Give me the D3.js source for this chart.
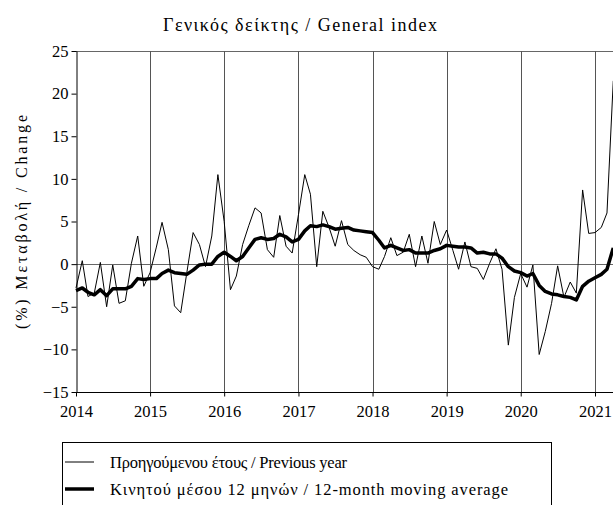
<!DOCTYPE html>
<html>
<head>
<meta charset="utf-8">
<script src="https://cdn.jsdelivr.net/npm/d3@7"></script>
<style>
  body { margin: 0; background: #fff; }
  text { font-family: "Liberation Serif", "DejaVu Serif", serif; fill: #000; }
</style>
</head>
<body>
<svg class="chart" width="613" height="505"></svg>
<script>
// monthly data, Jan 2014 - Apr 2021
const startYear = 2014;
const startMonth = 0;

const yoy = [
  -2.8, 0.4, -3.8, -3.4, 0.2, -5.0, -0.1, -4.6, -4.3, 0.1, 3.3, -2.6,
  -1.0, 2.0, 4.9, 1.7, -4.9, -5.7, -1.0, 3.7, 2.3, -0.3, 3.3, 10.5,
  5.0, -3.0, -1.4, 2.3, 4.5, 6.6, 6.0, 1.7, 0.8, 5.7, 2.1, 1.3,
  5.8, 10.5, 8.2, -0.3, 6.2, 4.3, 2.1, 5.1, 2.3, 1.6, 1.1, 0.8,
  -0.3, -0.6, 0.9, 3.1, 1.0, 1.4, 3.5, -0.3, 3.3, 0.1, 5.0, 2.3,
  4.0, 1.6, -0.6, 2.6, -0.3, -0.5, -1.8, 0.1, 1.8, -0.6, -9.5, -3.9,
  -1.1, -2.7, -0.1, -10.6, -7.9, -4.6, -0.2, -3.9, -2.1, -3.4, 8.7, 3.6,
  3.7, 4.3, 6.0, 21.5
];

const ma12 = [
  -3.1, -2.8, -3.3, -3.6, -3.0, -3.7, -2.9, -2.9, -2.9, -2.6, -1.7, -1.8,
  -1.7, -1.7, -1.1, -0.7, -1.0, -1.1, -1.2, -0.7, -0.1, 0.0, 0.0, 0.9,
  1.4, 0.9, 0.4, 0.9, 1.9, 2.9, 3.1, 2.9, 3.0, 3.5, 3.2, 2.6,
  2.9, 3.9, 4.5, 4.4, 4.6, 4.4, 4.1, 4.2, 4.3, 4.0, 3.9, 3.8,
  3.7, 2.8, 1.9, 2.2, 1.9, 1.6, 1.7, 1.3, 1.3, 1.3, 1.6, 1.8,
  2.2, 2.1, 2.0, 2.0, 1.9, 1.3, 1.4, 1.2, 1.2, 0.7, -0.3, -0.8,
  -1.0, -1.4, -1.1, -2.5, -3.2, -3.5, -3.6, -3.8, -3.9, -4.2, -2.6, -2.0,
  -1.6, -1.2, -0.6, 1.9
];

const yearTicks = [2014, 2015, 2016, 2017, 2018, 2019, 2020, 2021];
const yTicks = [-15, -10, -5, 0, 5, 10, 15, 20, 25];

const titleText = 'Γενικός δείκτης / General index';
const yLabelText = '(%) Μεταβολή / Change';
const legendLabels = [
  'Προηγούμενου έτους / Previous year',
  'Κινητού μέσου 12 μηνών / 12-month moving average'
];

const svg = d3.select('.chart');

const plot = { left: 76, right: 613, top: 51, bottom: 392 };

const monthDate = (i) => new Date(startYear, startMonth + i, 1);

const x = d3.scaleTime()
  .domain([new Date(2014, 0, 1), new Date(2021, 0, 1)])
  .range([plot.left, 595]);

const y = d3.scaleLinear()
  .domain([-15, 25])
  .range([plot.bottom, plot.top]);

// title
svg.append('text')
  .attr('x', 300)
  .attr('y', 31)
  .attr('text-anchor', 'middle')
  .attr('font-size', 18)
  .attr('textLength', 274)
  .attr('lengthAdjust', 'spacing')
  .text(titleText);

// y label
svg.append('text')
  .attr('transform', 'translate(27,222) rotate(-90)')
  .attr('text-anchor', 'middle')
  .attr('font-size', 16)
  .attr('textLength', 214)
  .attr('lengthAdjust', 'spacing')
  .text(yLabelText);

// top border
svg.append('line')
  .attr('x1', plot.left).attr('x2', plot.right)
  .attr('y1', plot.top + 0.5).attr('y2', plot.top + 0.5)
  .attr('stroke', '#666')
  .attr('stroke-width', 1);

// vertical year lines
svg.append('g')
  .selectAll('line')
  .data(yearTicks.slice(1))
  .join('line')
  .attr('x1', d => Math.round(x(new Date(d, 0, 1))) + 0.5)
  .attr('x2', d => Math.round(x(new Date(d, 0, 1))) + 0.5)
  .attr('y1', plot.top)
  .attr('y2', plot.bottom)
  .attr('stroke', '#555')
  .attr('stroke-width', 1);

// zero line
svg.append('line')
  .attr('x1', plot.left).attr('x2', plot.right)
  .attr('y1', Math.round(y(0)) + 0.5).attr('y2', Math.round(y(0)) + 0.5)
  .attr('stroke', '#666')
  .attr('stroke-width', 1);

// axes
const yAxis = svg.append('g')
  .attr('transform', `translate(${plot.left + 0.5},0)`)
  .call(d3.axisLeft(y).tickValues(yTicks).tickSize(5).tickPadding(3).tickSizeOuter(0));

yAxis.selectAll('text')
  .attr('font-size', 16.5)
  .attr('font-family', '"Liberation Serif", serif');

const xAxis = svg.append('g')
  .attr('transform', `translate(0,${plot.bottom + 0.5})`)
  .call(d3.axisBottom(x)
    .tickValues(yearTicks.map(d => new Date(d, 0, 1)))
    .tickFormat(d3.timeFormat('%Y'))
    .tickSize(4)
    .tickPadding(9)
    .tickSizeOuter(0));

xAxis.select('.domain').attr('d', `M${plot.left},0H${plot.right}`);

xAxis.selectAll('text')
  .attr('font-size', 16.5)
  .attr('font-family', '"Liberation Serif", serif');

// lines
const line = d3.line()
  .x((d, i) => x(monthDate(i)))
  .y(d => y(d));

svg.append('path')
  .datum(yoy)
  .attr('fill', 'none')
  .attr('stroke', '#000')
  .attr('stroke-width', 1)
  .attr('stroke-linejoin', 'miter')
  .attr('d', line);

svg.append('path')
  .datum(ma12)
  .attr('fill', 'none')
  .attr('stroke', '#000')
  .attr('stroke-width', 3.5)
  .attr('stroke-linejoin', 'round')
  .attr('d', line);

// legend
const legend = svg.append('g');

legend.append('rect')
  .attr('x', 62.5)
  .attr('y', 442.5)
  .attr('width', 489)
  .attr('height', 80)
  .attr('fill', 'none')
  .attr('stroke', '#000')
  .attr('stroke-width', 1);

const legendWidths = [1, 3.5];
const legendLengths = [237, 398];
legendLabels.forEach((label, i) => {
  const ly = 462 + i * 27;
  legend.append('line')
    .attr('x1', 65).attr('x2', 94)
    .attr('y1', ly).attr('y2', ly)
    .attr('stroke', '#000')
    .attr('stroke-width', legendWidths[i]);
  legend.append('text')
    .attr('x', 110)
    .attr('y', ly)
    .attr('dy', '0.35em')
    .attr('font-size', 16.5)
    .attr('textLength', legendLengths[i])
    .attr('lengthAdjust', 'spacing')
    .text(label);
});
</script>
</body>
</html>
